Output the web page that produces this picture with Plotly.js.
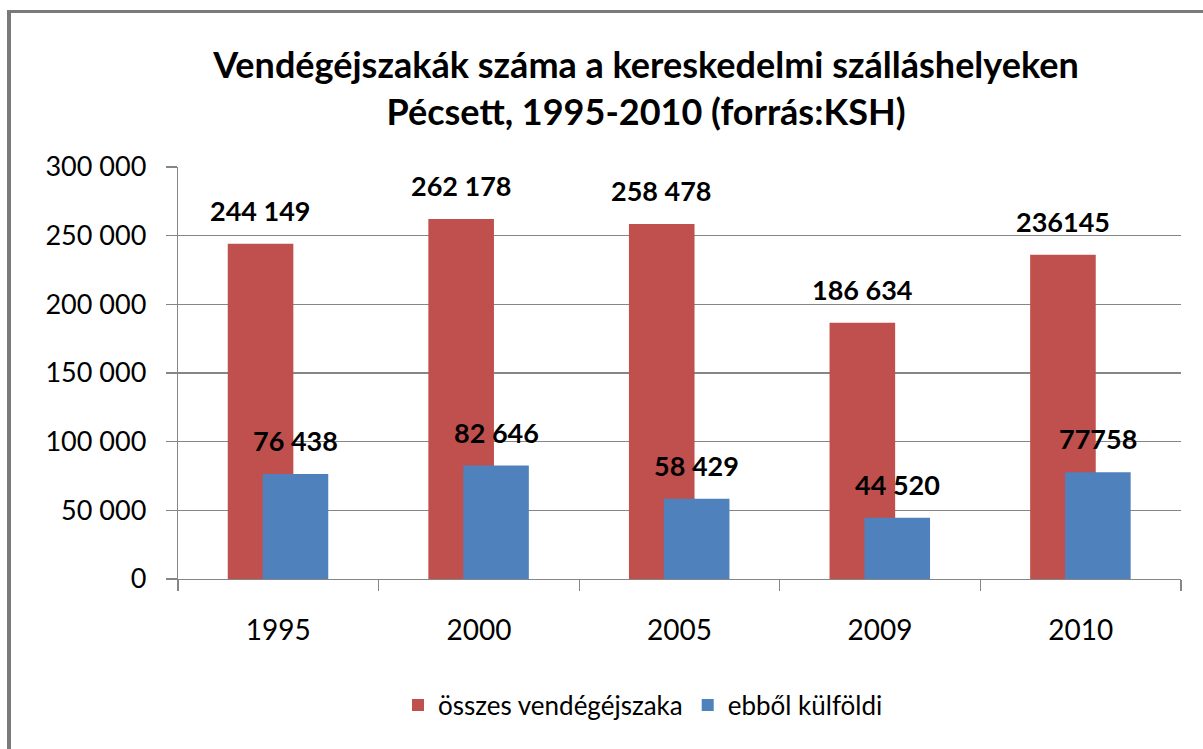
<!DOCTYPE html>
<html>
<head>
<meta charset="utf-8">
<script src="https://cdn.plot.ly/plotly-3.0.1.min.js"></script>
<style>
  html, body { margin: 0; padding: 0; background: #fff; overflow: hidden; }
  #chart { width: 1203px; height: 749px; }
  #frame { position: absolute; left: 7px; top: 10px; width: 1300px; height: 800px;
           border-left: 4px solid #7a7a7a; border-top: 3px solid #7a7a7a; pointer-events: none; }
</style>
</head>
<body>
<div id="chart"></div>
<div id="frame"></div>
<script>
const years = ['1995', '2000', '2005', '2009', '2010'];
const totalNights = [244149, 262178, 258478, 186634, 236145];
const foreignNights = [76438, 82646, 58429, 44520, 77758];
const totalLabels = ['244 149', '262 178', '258 478', '186 634', '236145'];
const foreignLabels = ['76 438', '82 646', '58 429', '44 520', '77758'];
const seriesNames = ['összes vendégéjszaka', 'ebből külföldi'];
const titleText = 'Vendégéjszakák száma a kereskedelmi szálláshelyeken<br>Pécsett, 1995-2010 (forrás:KSH)';

const FONT = 'Lato, "Open Sans", "Liberation Sans", sans-serif';
const RED = '#C0504D';
const BLUE = '#4F81BD';
const AXIS = '#868686';

const barW = 0.327;
const redOff = -0.252;
const blueOff = -0.078;

const traces = [
  { type: 'bar', name: seriesNames[0], x: years, y: totalNights,
    width: barW, offset: redOff, marker: { color: RED }, hoverinfo: 'x+y' },
  { type: 'bar', name: seriesNames[1], x: years, y: foreignNights,
    width: barW, offset: blueOff, marker: { color: BLUE }, hoverinfo: 'x+y' }
];

const annotations = [];
const labelFont = { family: FONT, size: 27, color: '#000' };
years.forEach((yr, i) => {
  annotations.push({ x: i + redOff + barW / 2, y: totalNights[i], xref: 'x', yref: 'y',
    text: '<b>' + totalLabels[i] + '</b>',
    showarrow: false, xanchor: 'center', yanchor: 'bottom', yshift: 15, font: labelFont });
  annotations.push({ x: i + blueOff + barW / 2, y: foreignNights[i], xref: 'x', yref: 'y',
    text: '<b>' + foreignLabels[i] + '</b>',
    showarrow: false, xanchor: 'center', yanchor: 'bottom', yshift: 15, font: labelFont });
});

const layout = {
  width: 1203, height: 749,
  margin: { l: 178, r: 22, t: 167, b: 170 },
  paper_bgcolor: '#fff', plot_bgcolor: '#fff',
  separators: ', ',
  barmode: 'overlay',
  font: { family: FONT, color: '#000' },
  title: { text: '<b>' + titleText + '</b>', x: 0.537, xref: 'container', xanchor: 'center',
           y: 1 - 78 / 749, yref: 'container', yanchor: 'top',
           font: { family: FONT, size: 36, color: '#000' } },
  xaxis: { type: 'category', range: [-0.5, 4.5], tickson: 'boundaries', ticks: 'outside', ticklen: 11,
           tickcolor: AXIS, tickwidth: 1.3, showline: true, linecolor: AXIS, linewidth: 1.3,
           showgrid: false, zeroline: false, ticklabelstandoff: 26,
           tickfont: { family: FONT, size: 28, color: '#000' } },
  yaxis: { range: [0, 300000], dtick: 50000, tick0: 0, tickformat: ',d', ticks: 'outside', ticklen: 11,
           tickcolor: AXIS, tickwidth: 1.3, showline: true, linecolor: AXIS, linewidth: 1.3,
           showgrid: true, gridcolor: AXIS, gridwidth: 1.3, zeroline: false, ticklabelstandoff: 14,
           tickfont: { family: FONT, size: 27, color: '#000' } },
  showlegend: true,
  legend: { orientation: 'h', xref: 'container', yref: 'container', x: 398 / 1203, xanchor: 'left',
            y: 1 - 705 / 749, yanchor: 'middle', font: { family: FONT, size: 26, color: '#000' },
            traceorder: 'normal', bgcolor: 'rgba(0,0,0,0)' },
  annotations: annotations
};

Plotly.newPlot('chart', traces, layout, { displayModeBar: false, staticPlot: true });
</script>
</body>
</html>
